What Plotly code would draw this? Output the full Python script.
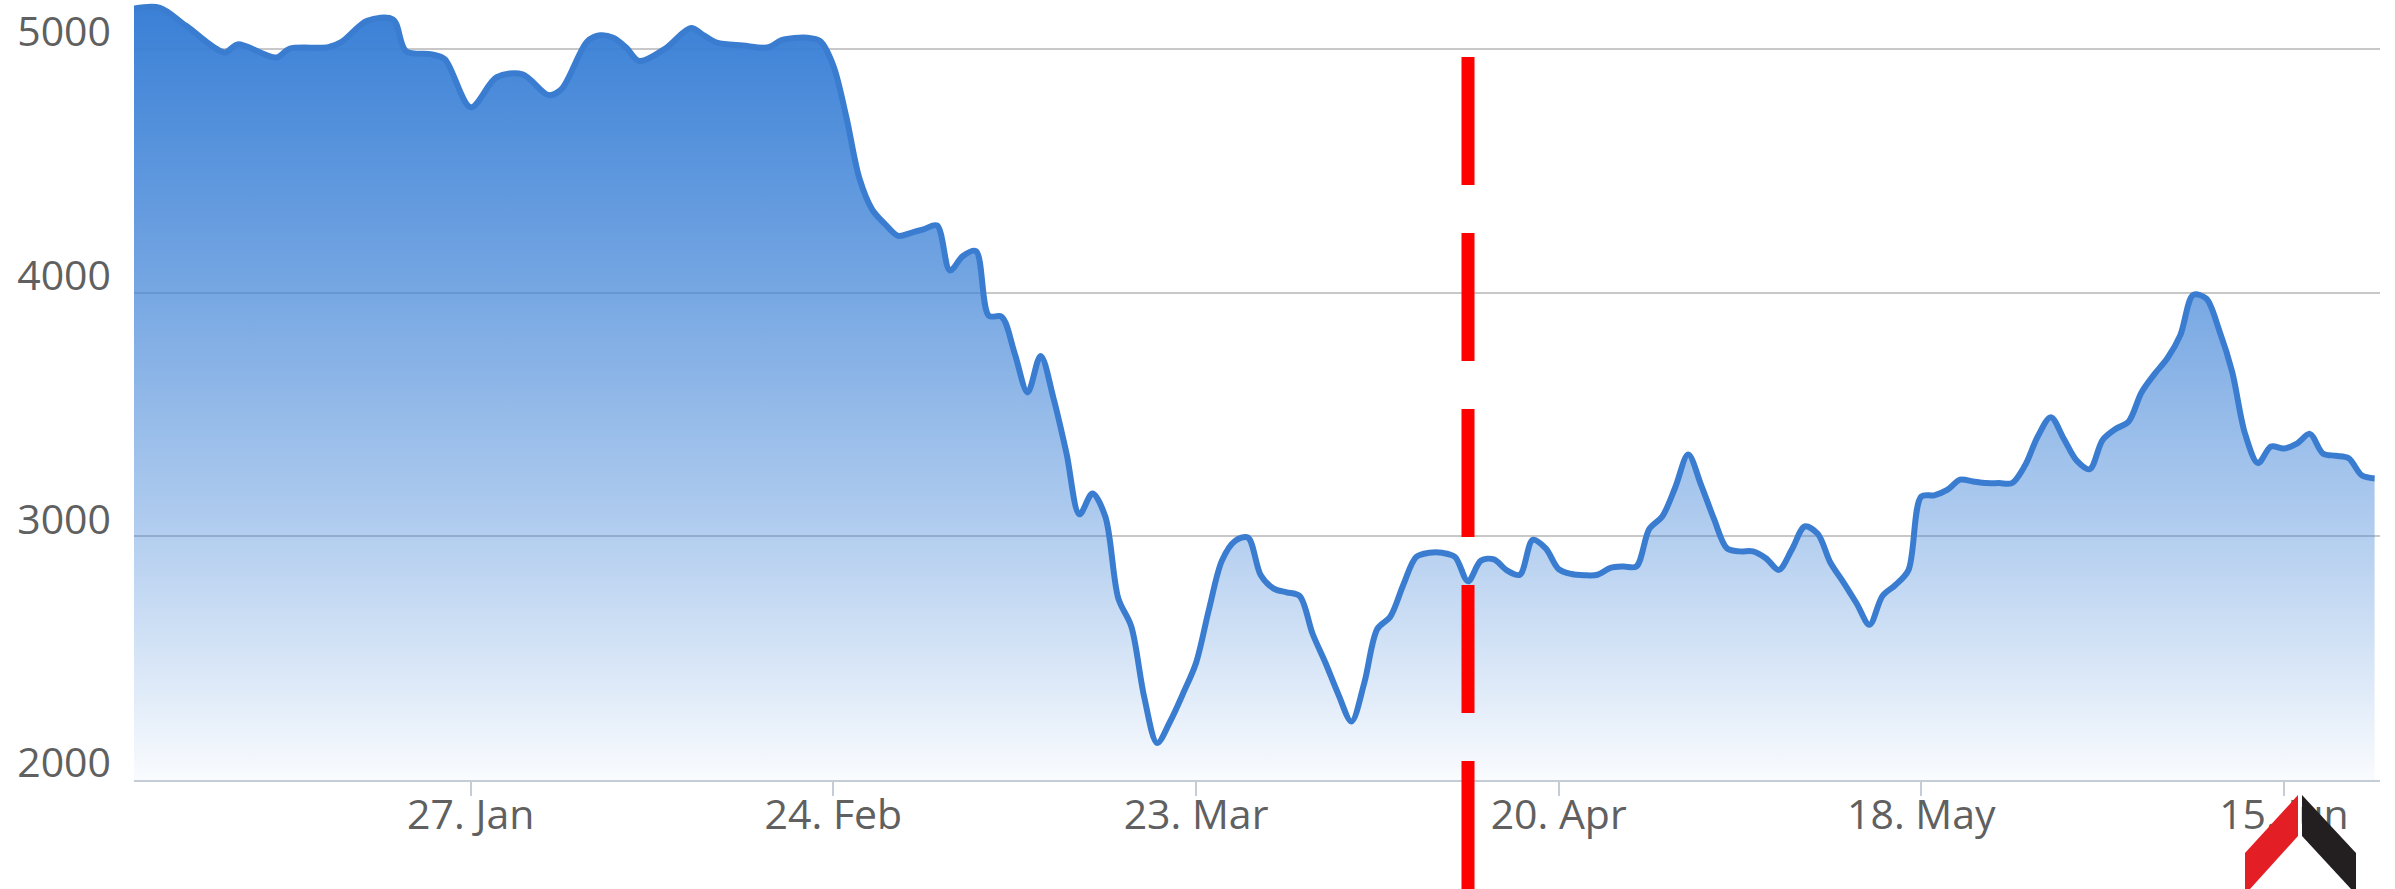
import plotly.graph_objects as go

# ---- data ----
dates = [
    "2020-01-01", "2020-01-03", "2020-01-05", "2020-01-08", "2020-01-09", "2020-01-12",
    "2020-01-13", "2020-01-16", "2020-01-17", "2020-01-19", "2020-01-21", "2020-01-22",
    "2020-01-24", "2020-01-25", "2020-01-27", "2020-01-29", "2020-01-31", "2020-02-02",
    "2020-02-03", "2020-02-05", "2020-02-06", "2020-02-07", "2020-02-08", "2020-02-09",
    "2020-02-11", "2020-02-13", "2020-02-14", "2020-02-15", "2020-02-17", "2020-02-19",
    "2020-02-20", "2020-02-22", "2020-02-23", "2020-02-24", "2020-02-25", "2020-02-26",
    "2020-02-27", "2020-02-28", "2020-02-29", "2020-03-01", "2020-03-02", "2020-03-03",
    "2020-03-04", "2020-03-05", "2020-03-06", "2020-03-07", "2020-03-08", "2020-03-09",
    "2020-03-10", "2020-03-11", "2020-03-12", "2020-03-13", "2020-03-14", "2020-03-15",
    "2020-03-16", "2020-03-17", "2020-03-18", "2020-03-19", "2020-03-20", "2020-03-21",
    "2020-03-22", "2020-03-23", "2020-03-24", "2020-03-25", "2020-03-26", "2020-03-27",
    "2020-03-28", "2020-03-29", "2020-03-30", "2020-03-31", "2020-04-01", "2020-04-02",
    "2020-04-03", "2020-04-04", "2020-04-05", "2020-04-06", "2020-04-07", "2020-04-08",
    "2020-04-09", "2020-04-10", "2020-04-11", "2020-04-12", "2020-04-13", "2020-04-14",
    "2020-04-15", "2020-04-16", "2020-04-17", "2020-04-18", "2020-04-19", "2020-04-20",
    "2020-04-21", "2020-04-22", "2020-04-23", "2020-04-24", "2020-04-25", "2020-04-26",
    "2020-04-27", "2020-04-28", "2020-04-29", "2020-04-30", "2020-05-01", "2020-05-02",
    "2020-05-03", "2020-05-04", "2020-05-05", "2020-05-06", "2020-05-07", "2020-05-08",
    "2020-05-09", "2020-05-10", "2020-05-11", "2020-05-12", "2020-05-13", "2020-05-14",
    "2020-05-15", "2020-05-16", "2020-05-17", "2020-05-18", "2020-05-19", "2020-05-20",
    "2020-05-21", "2020-05-22", "2020-05-23", "2020-05-24", "2020-05-25", "2020-05-26",
    "2020-05-27", "2020-05-28", "2020-05-29", "2020-05-30", "2020-05-31", "2020-06-01",
    "2020-06-02", "2020-06-03", "2020-06-04", "2020-06-05", "2020-06-06", "2020-06-07",
    "2020-06-08", "2020-06-09", "2020-06-10", "2020-06-11", "2020-06-12", "2020-06-13",
    "2020-06-14", "2020-06-15", "2020-06-16", "2020-06-17", "2020-06-18", "2020-06-19",
    "2020-06-20", "2020-06-21", "2020-06-22",
]
values = [
    5165, 5168, 5095, 4985, 5018, 4964,
    5000, 5006, 5027, 5115, 5120, 4990,
    4977, 4957, 4760, 4883, 4895, 4810,
    4834, 5030, 5055, 5045, 5005, 4950,
    5000, 5085, 5055, 5025, 5013, 5006,
    5035, 5045, 5030, 4930, 4720, 4470,
    4340, 4280, 4232, 4245, 4260, 4275,
    4090, 4150, 4170, 3905, 3900, 3750,
    3590, 3740, 3565, 3340, 3090, 3175,
    3080, 2745, 2630, 2340, 2152, 2240,
    2355, 2480, 2700, 2900, 2980, 2995,
    2840, 2785, 2770, 2755, 2600, 2480,
    2350, 2240, 2400, 2620, 2670, 2800,
    2915, 2932, 2932, 2915, 2815, 2900,
    2905, 2860, 2842, 2985, 2950, 2865,
    2845, 2840, 2842, 2870, 2876, 2876,
    3030, 3081, 3200, 3335, 3210, 3070,
    2950, 2938, 2938, 2910, 2862, 2945,
    3040, 3010, 2890, 2810, 2725, 2637,
    2755, 2800, 2860, 3163, 3168, 3190,
    3232, 3225, 3218, 3218, 3218, 3290,
    3410, 3488, 3400, 3310, 3275, 3395,
    3440, 3470, 3590, 3665, 3730, 3825,
    3990, 3975, 3845, 3675, 3420, 3300,
    3368, 3360, 3380, 3420, 3340, 3330,
    3320, 3250, 3237,
]
y_ticks = [2000, 3000, 4000, 5000]
x_tick_dates = ["2020-01-27", "2020-02-24", "2020-03-23", "2020-04-20", "2020-05-18", "2020-06-15"]
marker_date = "2020-04-13"

# ---- layout geometry ----
W, H = 2395, 889
ML, MR, MT, MB = 134, 15, 0, 109
PW, PH = W - ML - MR, H - MT - MB


def px2paper(px, py):
    return (px - ML) / PW, (H - MB - py) / PH


fig = go.Figure()
fig.add_trace(go.Scatter(
    x=dates, y=values, mode="lines",
    line=dict(color="#3a7dd0", width=6, shape="spline", smoothing=0.9),
    fill="tozeroy",
    fillgradient=dict(
        type="vertical", start=2000, stop=5170,
        colorscale=[[0, "rgba(58,128,214,0.03)"], [0.33, "rgba(58,128,214,0.40)"],
                    [0.66, "rgba(58,128,214,0.72)"], [1, "rgba(58,128,214,1)"]],
    ),
    hoverinfo="skip", showlegend=False,
))

shapes = []
# red dashed vertical marker
_, ytop = px2paper(0, 57)
_, ybot = px2paper(0, 889)
shapes.append(dict(type="line", xref="x", yref="paper", x0=marker_date, x1=marker_date,
                   y0=ytop, y1=ybot, layer="above",
                   line=dict(color="#ff0000", width=13, dash="128px,48px")))


def poly(points, color):
    pts = [px2paper(a, b) for a, b in points]
    path = "M " + " L ".join(f"{a:.5f},{b:.5f}" for a, b in pts) + " Z"
    return dict(type="path", xref="paper", yref="paper", path=path, layer="above",
                fillcolor=color, line=dict(width=0))


shapes.append(poly([(2245, 853), (2298, 795), (2298, 836), (2250, 889), (2245, 889)], "#e31e24"))
shapes.append(poly([(2302, 795), (2356, 853), (2356, 889), (2351, 889), (2302, 836)], "#231f20"))

fig.update_layout(
    width=W, height=H,
    margin=dict(l=ML, r=MR, t=MT, b=MB, pad=0),
    paper_bgcolor="white", plot_bgcolor="white",
    font=dict(family="Open Sans", size=41, color="#606060"),
    shapes=shapes,
    xaxis=dict(
        type="date", range=["2020-01-01", "2020-06-22 10:00"],
        tickvals=x_tick_dates, tickformat="%d. %b",
        showgrid=False, showline=True, linecolor="#c4ccd6", linewidth=2,
        ticks="outside", ticklen=14, tickwidth=2, tickcolor="#c4ccd6",
        ticklabelstandoff=-16, automargin=False, zeroline=False,
    ),
    yaxis=dict(
        range=[2000, 5200], tickvals=y_ticks,
        showgrid=True, gridcolor="#c8c8c8", gridwidth=2,
        showline=False, zeroline=False, ticks="",
        ticklabelposition="outside", ticklabelstandoff=22, ticklabelshift=-17,
        ticklabeloverflow="allow", automargin=False,
    ),
)

fig.write_html("out.html")
